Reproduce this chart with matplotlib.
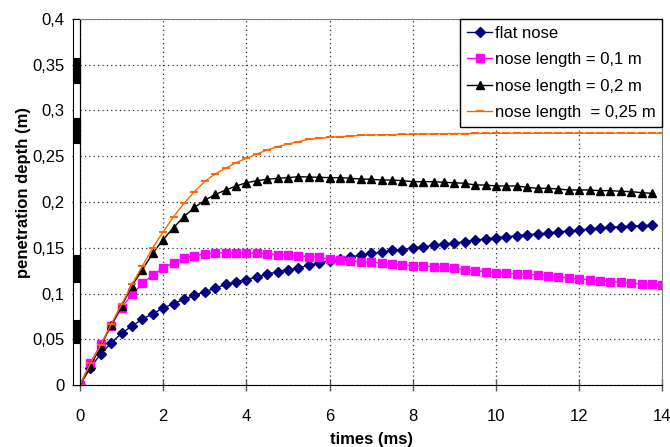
import matplotlib
matplotlib.use("Agg")
import matplotlib.pyplot as plt
from matplotlib.patches import Rectangle
from matplotlib.ticker import FuncFormatter, MultipleLocator

plt.rcParams["font.family"] = ["Liberation Sans", "DejaVu Sans"]

# sample times (ms), one point every 0.25 ms
times = [0, 0.25, 0.5, 0.75, 1, 1.25, 1.5, 1.75, 2, 2.25,
         2.5, 2.75, 3, 3.25, 3.5, 3.75, 4, 4.25, 4.5, 4.75,
         5, 5.25, 5.5, 5.75, 6, 6.25, 6.5, 6.75, 7, 7.25,
         7.5, 7.75, 8, 8.25, 8.5, 8.75, 9, 9.25, 9.5, 9.75,
         10, 10.25, 10.5, 10.75, 11, 11.25, 11.5, 11.75, 12, 12.25,
         12.5, 12.75, 13, 13.25, 13.5, 13.75, 14]

# penetration depth (m)
flat_nose = [0, 0.019, 0.034, 0.046, 0.0565, 0.0645, 0.072, 0.078, 0.084, 0.089,
             0.0937, 0.098, 0.102, 0.1057, 0.110, 0.113, 0.1152, 0.118, 0.121, 0.124,
             0.1257, 0.128, 0.131, 0.133, 0.136, 0.138, 0.140, 0.142, 0.144, 0.145,
             0.147, 0.148, 0.150, 0.151, 0.1527, 0.154, 0.155, 0.1566, 0.1585, 0.1596,
             0.161, 0.162, 0.163, 0.1643, 0.165, 0.1658, 0.1675, 0.1683, 0.1694, 0.1705,
             0.1716, 0.1723, 0.173, 0.1738, 0.1740, 0.1745]

nose_01 = [0, 0.0244, 0.0445, 0.0645, 0.0845, 0.099, 0.111, 0.120, 0.128, 0.1337,
           0.1385, 0.141, 0.1432, 0.1443, 0.1446, 0.1446, 0.1443, 0.144, 0.1433, 0.1425,
           0.142, 0.1413, 0.1402, 0.1395, 0.1377, 0.1366, 0.1355, 0.1348, 0.134, 0.133,
           0.1322, 0.1315, 0.1304, 0.1300, 0.1293, 0.1286, 0.1275, 0.126, 0.125, 0.1238,
           0.1227, 0.122, 0.1213, 0.1208, 0.1202, 0.1195, 0.1184, 0.1168, 0.1158, 0.1148,
           0.114, 0.1129, 0.1122, 0.1111, 0.1104, 0.1100, 0.1093]

nose_02 = [0, 0.0208, 0.0426, 0.0656, 0.0863, 0.1085, 0.126, 0.144, 0.159, 0.172,
           0.184, 0.194, 0.202, 0.2082, 0.213, 0.2175, 0.221, 0.2233, 0.2248, 0.2259,
           0.2266, 0.2277, 0.2273, 0.227, 0.2266, 0.2266, 0.2259, 0.2251, 0.2248, 0.224,
           0.224, 0.2233, 0.2222, 0.2222, 0.2222, 0.2215, 0.221, 0.2204, 0.2186, 0.2186,
           0.2175, 0.2175, 0.2175, 0.216, 0.215, 0.215, 0.2142, 0.2131, 0.2131, 0.2131,
           0.2124, 0.2124, 0.2117, 0.2113, 0.2102, 0.2095]

nose_025 = [0, 0.0237, 0.0437, 0.0667, 0.088, 0.110, 0.130, 0.150, 0.1675, 0.184,
            0.1986, 0.2113, 0.2225, 0.2306, 0.2368, 0.243, 0.2477, 0.2525, 0.2568, 0.2605,
            0.2634, 0.266, 0.2685, 0.2696, 0.2707, 0.2714, 0.272, 0.2729, 0.2732, 0.2736,
            0.2736, 0.274, 0.274, 0.2743, 0.2745, 0.2747, 0.2748, 0.2748, 0.2749, 0.2749,
            0.2750, 0.2750, 0.2750, 0.2750, 0.2751, 0.2751, 0.2751, 0.2751, 0.2751, 0.2752,
            0.2752, 0.2752, 0.2752, 0.2752, 0.2752, 0.2752, 0.2752]

labels = ["flat nose", "nose length = 0,1 m", "nose length = 0,2 m",
          "nose length  = 0,25 m"]

fig = plt.figure(figsize=(6.7, 4.47), dpi=100)
ax = fig.add_axes([0.1194, 0.1387, 0.8693, 0.8188])

ax.plot(times[:len(flat_nose)], flat_nose, color="#000080", marker="D",
        markersize=5.2, linewidth=1.0, label=labels[0])
ax.plot(times[:len(nose_01)], nose_01, color="#FF00FF", marker="s",
        markersize=5.2, linewidth=1.0, label=labels[1])
ax.plot(times[:len(nose_02)], nose_02, color="black", marker="^",
        markersize=6, linewidth=1.0, label=labels[2])
ax.plot(times[:len(nose_025)], nose_025, color="#FF6600", marker="_",
        markersize=6, markeredgewidth=1.4, linewidth=1.0, label=labels[3])

ax.set_xlim(0, 14)
ax.set_ylim(0, 0.4)
ax.xaxis.set_major_locator(MultipleLocator(2))
ax.yaxis.set_major_locator(MultipleLocator(0.05))
comma = FuncFormatter(lambda v, pos: f"{v:g}".replace(".", ","))
ax.xaxis.set_major_formatter(comma)
ax.yaxis.set_major_formatter(comma)
ax.tick_params(axis="x", direction="inout", length=8, width=1, color="#555555",
               labelsize=12, pad=13)
ax.tick_params(axis="y", direction="out", length=6, width=1, color="#333333",
               labelsize=12, pad=5)

ax.grid(True, color="#333333", linestyle=(0, (1, 2.5)), linewidth=0.9)
ax.set_axisbelow(True)
for side in ("top", "right"):
    ax.spines[side].set_color("#808080")
for side in ("left", "bottom"):
    ax.spines[side].set_color("black")

ax.set_xlabel("times (ms)", fontsize=12, fontweight="bold", labelpad=6)
ax.set_ylabel("penetration depth (m)", fontsize=12, fontweight="bold")
ax.yaxis.set_label_coords(-0.084, 0.525)

# the striped bar drawn along the value axis
ax.add_patch(Rectangle((-0.0125, 0), 0.0125, 1, transform=ax.transAxes,
                       facecolor="white", edgecolor="black", linewidth=0.8,
                       clip_on=False))
for lo, hi in [(0.8243, 0.8926), (0.6604, 0.7287), (0.2822, 0.3552), (0.1139, 0.1776)]:
    ax.add_patch(Rectangle((-0.0125, lo), 0.0125, hi - lo, transform=ax.transAxes,
                           facecolor="black", edgecolor="black", linewidth=0.8,
                           clip_on=False))

leg = ax.legend(loc="upper right", fontsize=12, frameon=True, fancybox=False,
                edgecolor="black", framealpha=1, borderaxespad=0, borderpad=0.42,
                labelspacing=0.68, handlelength=1.5, handletextpad=0.15,
                numpoints=1)
leg.get_frame().set_linewidth(1.0)

fig.savefig("out.png", dpi=100)
